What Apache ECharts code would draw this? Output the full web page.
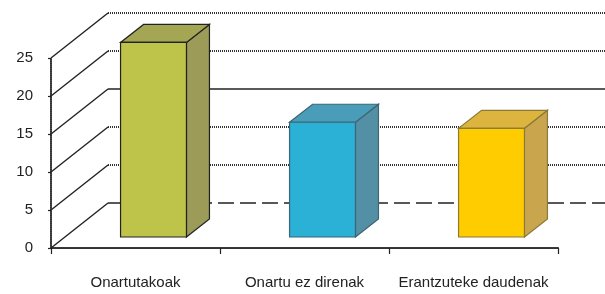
<!DOCTYPE html>
<html>
<head>
<meta charset="utf-8">
<script src="https://cdn.jsdelivr.net/npm/echarts@6/dist/echarts.min.js"></script>
<style>
  html, body { margin: 0; padding: 0; background: #fff; }
  #main { width: 605px; height: 294px; }
</style>
</head>
<body>
<div id="main"></div>
<script>
// data
const categories = ['Onartutakoak', 'Onartu ez direnak', 'Erantzuteke daudenak'];
const values = [25.6, 15.1, 14.3];
const yTicks = [0, 5, 10, 15, 20, 25];

// look of the 3d box
const faceColors = ['#bec44a', '#2bb0d6', '#ffcc00'];
const topColors = ['#a4a653', '#4a9db8', '#ddb43e'];
const sideColors = ['#9c9b58', '#5390a5', '#c9a54d'];
const edgeColors = ['#222', '#3c6575', '#8b7a3a'];
const DEPTH_X = 57, DEPTH_Y = -45;   // wall depth
const BAR_DX = 23, BAR_DY = -18;     // bar depth
const BAR_OFF_X = 18, BAR_OFF_Y = -11;
const wallLine = {
  0: { type: [16, 6], width: 1.5, color: '#222' },
  15: { type: 'solid', width: 1.5, color: '#222' }
};
const dotted = { type: [1, 1], width: 2, color: '#333' };

const chart = echarts.init(document.getElementById('main'));

function renderWall(params, api) {
  const cs = params.coordSys;
  const y = api.coord([0, api.value(1)])[1];
  const x0 = cs.x;
  const st = wallLine[api.value(1)] || dotted;
  return {
    type: 'group',
    children: [
      { type: 'line', shape: { x1: x0, y1: y, x2: x0 + DEPTH_X, y2: y + DEPTH_Y },
        style: { stroke: '#222', lineWidth: 1.4 } },
      { type: 'line', shape: { x1: x0 + DEPTH_X, y1: y + DEPTH_Y, x2: x0 + DEPTH_X + cs.width, y2: y + DEPTH_Y },
        style: { stroke: st.color, lineWidth: st.width, lineDash: st.type === 'solid' ? null : st.type } }
    ]
  };
}

function renderBar(params, api) {
  const i = params.dataIndex;
  const base = api.coord([api.value(0), 0]);
  const top = api.coord([api.value(0), api.value(1)]);
  const w = api.size([1, 0])[0] * 0.39;
  const x1 = base[0] + BAR_OFF_X - w / 2, x2 = x1 + w;
  const yb = base[1] + BAR_OFF_Y, yt = top[1] + BAR_OFF_Y;
  const edge = { stroke: edgeColors[i], lineWidth: 1.2 };
  return {
    type: 'group',
    children: [
      { type: 'polygon', shape: { points: [[x2, yt], [x2, yb], [x2 + BAR_DX, yb + BAR_DY], [x2 + BAR_DX, yt + BAR_DY]] },
        style: Object.assign({ fill: sideColors[i] }, edge) },
      { type: 'polygon', shape: { points: [[x1, yt], [x2, yt], [x2 + BAR_DX, yt + BAR_DY], [x1 + BAR_DX, yt + BAR_DY]] },
        style: Object.assign({ fill: topColors[i] }, edge) },
      { type: 'rect', shape: { x: x1, y: yt, width: w, height: yb - yt },
        style: Object.assign({ fill: faceColors[i] }, edge) }
    ]
  };
}

chart.setOption({
  animation: false,
  backgroundColor: '#fff',
  grid: { left: 51, right: 47, top: 58, bottom: 46 },
  xAxis: {
    type: 'category',
    data: categories,
    axisLine: { lineStyle: { color: '#333', width: 2, type: [1, 1] } },
    axisTick: { show: true, length: 6, lineStyle: { color: '#222', width: 1.2 } },
    axisLabel: { interval: 0, hideOverlap: false, margin: 27, fontSize: 15, color: '#222',
      fontFamily: 'Liberation Sans, Arial, sans-serif' },
    splitLine: { show: false }
  },
  yAxis: {
    type: 'value',
    min: 0, max: 25, interval: 5,
    axisLine: { show: true, lineStyle: { color: '#333', width: 2, type: [1, 1] } },
    axisTick: { show: true, length: 3, lineStyle: { color: '#222', width: 1.2 } },
    axisLabel: { margin: 18, fontSize: 15, color: '#222', fontFamily: 'Liberation Sans, Arial, sans-serif' },
    splitLine: { show: false }
  },
  series: [
    {
      type: 'custom',
      name: 'walls',
      renderItem: renderWall,
      data: yTicks.map(v => [0, v]),
      silent: true,
      z: 1
    },
    {
      type: 'custom',
      name: 'bars',
      renderItem: renderBar,
      data: values.map((v, i) => [i, v]),
      z: 5
    }
  ]
});
</script>
</body>
</html>
